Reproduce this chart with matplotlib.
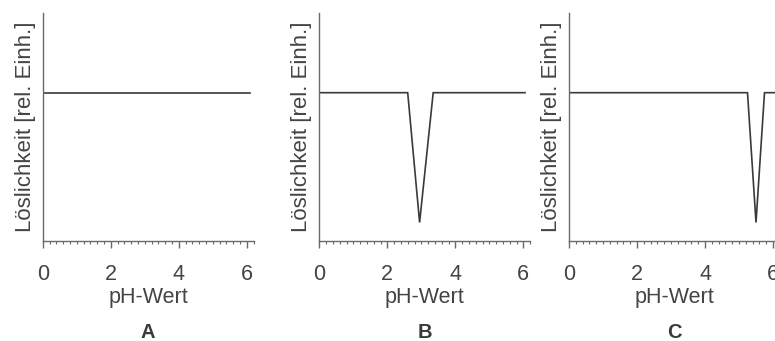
import numpy as np
import matplotlib.pyplot as plt
from matplotlib.ticker import MultipleLocator

plt.rc('font', family=['Liberation Sans', 'DejaVu Sans'])

# data (pH, relative solubility)
ph_a = [0.0, 6.1]
sol_a = [0.65, 0.65]
ph_b = [0.0, 2.6, 2.95, 3.35, 6.05]
sol_b = [0.65, 0.65, 0.08, 0.65, 0.65]
ph_c = [0.0, 5.25, 5.5, 5.75, 6.3]
sol_c = [0.65, 0.65, 0.08, 0.65, 0.65]
panel_labels = ['A', 'B', 'C']
xticks = [0, 2, 4, 6]

series = [(ph_a, sol_a), (ph_b, sol_b), (ph_c, sol_c)]
lefts = [42.7 / 775, 319.3 / 775, 569.0 / 775]

fig = plt.figure(figsize=(7.75, 3.41), dpi=100)
axis_col = '#6a6a6a'
line_col = '#3a3a3a'
txt_col = '#444444'

for (x, y), left, lab in zip(series, lefts, panel_labels):
    ax = fig.add_axes([left, 100.3 / 341, 0.272, 227.7 / 341])
    ax.plot(x, y, color=line_col, linewidth=1.2, solid_joinstyle='miter')
    ax.set_xlim(0, 6.2)
    ax.set_ylim(0, 1)
    for s in ['top', 'right']:
        ax.spines[s].set_visible(False)
    for s in ['left', 'bottom']:
        ax.spines[s].set_color(axis_col)
        ax.spines[s].set_linewidth(1.0)
    ax.set_yticks([])
    ax.set_xticks(xticks)
    ax.xaxis.set_minor_locator(MultipleLocator(0.2))
    ax.tick_params(axis='x', which='major', length=5, width=1.0, color=axis_col,
                   pad=12, labelsize=15.5, labelcolor=txt_col)
    ax.tick_params(axis='x', which='minor', length=2.5, width=0.8, color=axis_col)
    ax.set_xlabel('pH-Wert', fontsize=15.5, color=txt_col, labelpad=1)
    ax.set_ylabel('Löslichkeit [rel. Einh.]', fontsize=16, color=txt_col, labelpad=5)
    ax.patch.set_alpha(0)
    # panel letter
    fig.text(left + 0.136, 1 - 332 / 341, lab, fontsize=14.5, color='#3a3a3a',
             fontweight='bold', ha='center', va='center')

plt.savefig('out.png', dpi=100)
